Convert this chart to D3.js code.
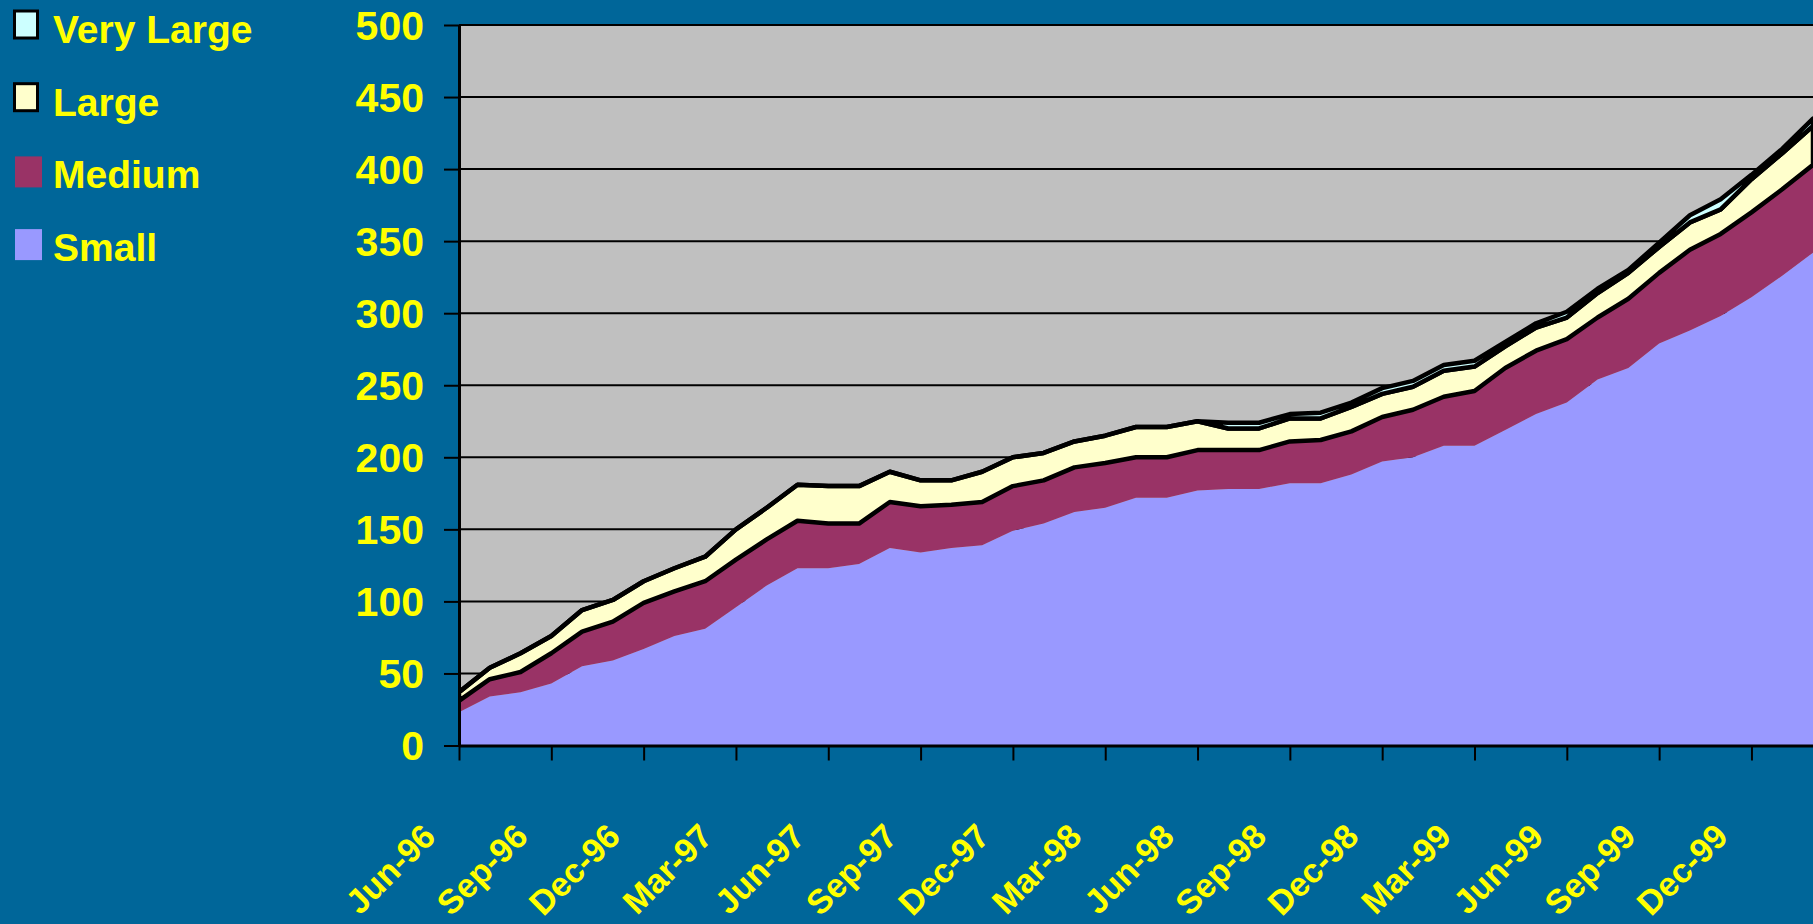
<!DOCTYPE html>
<html>
<head>
<meta charset="utf-8">
<script src="https://cdn.jsdelivr.net/npm/d3@7"></script>
<style>
  html, body { margin: 0; padding: 0; background: #006699; overflow: hidden; }
  svg { display: block; }
  text { font-family: "Liberation Sans", Arial, sans-serif; font-weight: bold; fill: #FFFF00; }
</style>
</head>
<body>
<svg id="chart" width="1813" height="924"></svg>
<script>
// ---- data ----
const months = ["Jun-96","Jul-96","Aug-96","Sep-96","Oct-96","Nov-96","Dec-96",
  "Jan-97","Feb-97","Mar-97","Apr-97","May-97","Jun-97","Jul-97","Aug-97","Sep-97","Oct-97","Nov-97","Dec-97",
  "Jan-98","Feb-98","Mar-98","Apr-98","May-98","Jun-98","Jul-98","Aug-98","Sep-98","Oct-98","Nov-98","Dec-98",
  "Jan-99","Feb-99","Mar-99","Apr-99","May-99","Jun-99","Jul-99","Aug-99","Sep-99","Oct-99","Nov-99","Dec-99",
  "Jan-00","Feb-00"];
const tickLabels = ["Jun-96","Sep-96","Dec-96","Mar-97","Jun-97","Sep-97","Dec-97","Mar-98",
  "Jun-98","Sep-98","Dec-98","Mar-99","Jun-99","Sep-99","Dec-99"];
const yTicks = [0,50,100,150,200,250,300,350,400,450,500];

const small = [23,34,37,43,55,59,67,76,81,96,111,123,123,126,137,134,137,139,149,154,162,165,172,172,177,
  178,178,182,182,188,197,200,208,208,219,230,238,254,262,279,288,298,311,326,342];
const medium = [8,12,14,21,24,27,32,31,33,33,32,33,31,28,32,32,30,30,31,30,31,31,28,28,28,
  27,27,29,30,30,31,33,34,38,43,44,44,43,48,49,56,57,59,60,61];
const large = [6,8,13,12,15,15,15,16,17,21,22,25,26,26,21,18,17,21,20,19,18,19,21,21,20,
  15,15,16,15,17,16,16,18,17,15,16,15,17,18,18,19,17,23,25,27];
const veryLarge = [0,0,0,0,0,0,0,0,0,0,0,0,0,0,0,0,0,0,0,0,0,0,0,0,0,
  4,4,3,4,3,4,4,4,4,3,3,4,3,2,3,5,7,3,3,5];

const seriesNames = ["Small","Medium","Large","Very Large"];
const seriesColors = ["#9999FF","#993366","#FFFFCC","#CCFFFF"];
const seriesBorder = [false,false,true,true];

(function draw() {
  const svg = d3.select("#chart");
  const W = 1813, H = 924;
  const pL = 459, pR = 1813, pT = 25, pB = 745.5;

  svg.append("rect").attr("width", W).attr("height", H).attr("fill", "#006699");

  const x = d3.scalePoint().domain(months).range([pL, pR]);
  const y = d3.scaleLinear().domain([0, 500]).range([pB, pT]);

  const table = months.map((m, i) => ({
    month: m, "Small": small[i], "Medium": medium[i], "Large": large[i], "Very Large": veryLarge[i]
  }));
  const stacked = d3.stack().keys(seriesNames)(table);

  svg.append("defs").append("clipPath").attr("id", "plotclip")
    .append("rect").attr("x", pL).attr("y", pT - 5).attr("width", pR - pL + 5).attr("height", pB - pT + 5);

  svg.append("rect").attr("x", pL).attr("y", pT).attr("width", pR - pL).attr("height", pB - pT)
    .attr("fill", "#C0C0C0");

  svg.append("g").selectAll("line").data(yTicks.filter(d => d > 0)).join("line")
    .attr("x1", pL).attr("x2", pR)
    .attr("y1", d => y(d)).attr("y2", d => y(d))
    .attr("stroke", "#000").attr("stroke-width", 2);

  const area = d3.area()
    .x((d, i) => x(months[i]))
    .y0(d => y(d[0]))
    .y1(d => y(d[1]));

  const g = svg.append("g").attr("clip-path", "url(#plotclip)");
  stacked.forEach((s, k) => {
    g.append("path")
      .datum(s)
      .attr("d", area)
      .attr("fill", seriesColors[k])
      .attr("stroke", seriesBorder[k] ? "#000" : "none")
      .attr("stroke-width", seriesBorder[k] ? 4.5 : 0)
      .attr("stroke-linejoin", "round");
  });

  const yAxis = d3.axisLeft(y).tickValues(yTicks).tickSize(15).tickSizeOuter(0).tickPadding(20);
  const yg = svg.append("g").attr("transform", `translate(${pL},0)`).call(yAxis);
  yg.select(".domain").attr("stroke", "#000").attr("stroke-width", 3);
  yg.selectAll(".tick line").attr("stroke", "#000").attr("stroke-width", 2);
  yg.selectAll(".tick text")
    .attr("fill", "#FFFF00")
    .attr("font-size", 41)
    .attr("font-weight", "bold")
    .attr("font-family", "Liberation Sans, Arial, sans-serif")
    .attr("dy", "0.35em");

  const xAxis = d3.axisBottom(x).tickValues(tickLabels).tickSize(15).tickSizeOuter(0);
  const xg = svg.append("g").attr("transform", `translate(0,${pB})`).call(xAxis);
  xg.select(".domain").attr("stroke", "#000").attr("stroke-width", 3);
  xg.selectAll(".tick line").attr("stroke", "#000").attr("stroke-width", 2);
  xg.selectAll(".tick text")
    .attr("fill", "#FFFF00")
    .attr("font-size", 34)
    .attr("font-weight", "bold")
    .attr("font-family", "Liberation Sans, Arial, sans-serif")
    .attr("x", 0).attr("y", 0).attr("dy", 0)
    .attr("text-anchor", "end")
    .attr("transform", "translate(-22,93) rotate(-45)");

  const legendOrder = [3, 2, 1, 0];
  const lg = svg.append("g");
  legendOrder.forEach((k, j) => {
    const baseY = 43 + j * 72.7;
    if (seriesBorder[k]) {
      lg.append("rect").attr("x", 14.5).attr("y", baseY - 32).attr("width", 23).attr("height", 27)
        .attr("fill", seriesColors[k]).attr("stroke", "#000").attr("stroke-width", 3);
    } else {
      lg.append("rect").attr("x", 15).attr("y", baseY - 32).attr("width", 27).attr("height", 31)
        .attr("fill", seriesColors[k]);
    }
    lg.append("text").attr("x", 53).attr("y", baseY)
      .attr("font-size", 39)
      .text(seriesNames[k]);
  });
})();
</script>
</body>
</html>
